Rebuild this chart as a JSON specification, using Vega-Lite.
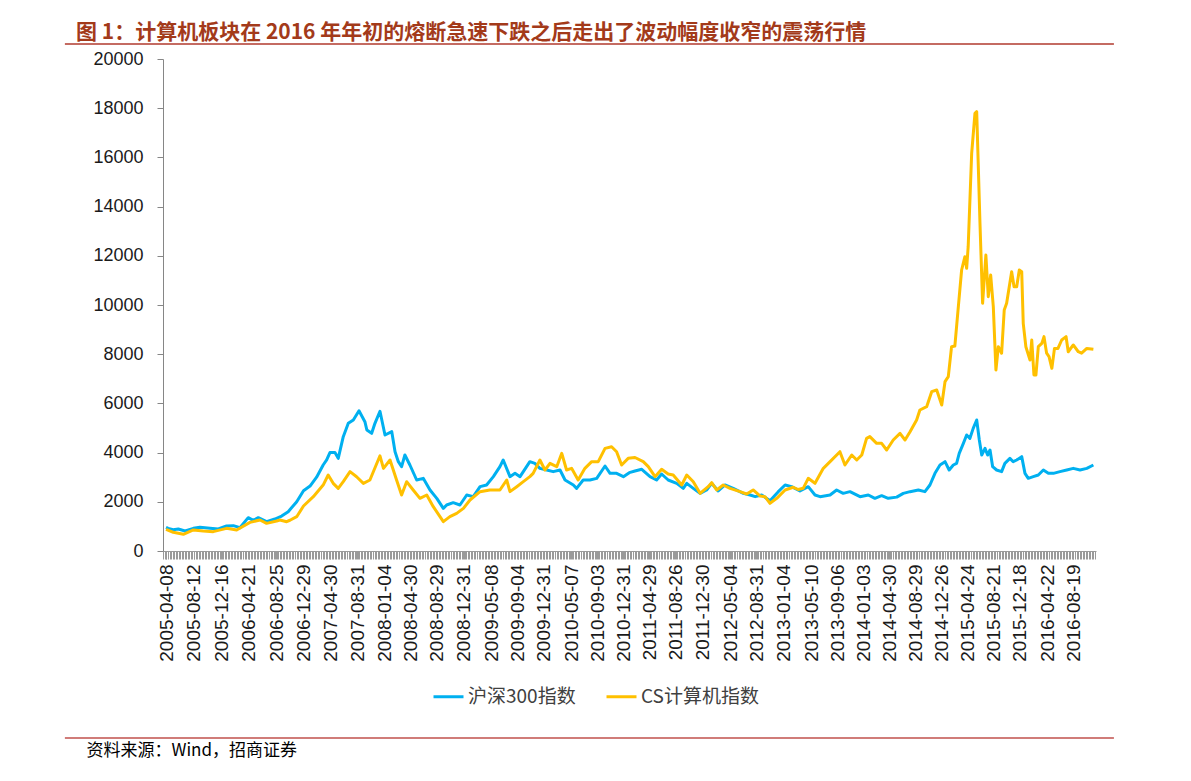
{
  "$schema": "https://vega.github.io/schema/vega-lite/v6.json",
  "width": 933,
  "height": 492,
  "autosize": {"type": "none"},
  "padding": {"left": 163, "top": 59, "right": 95, "bottom": 230},
  "background": "white",
  "config": {"view": {"stroke": null}, "axis": {"grid": false}},
  "title": {
    "text": "图 1：计算机板块在 2016 年年初的熔断急速下跌之后走出了波动幅度收窄的震荡行情",
    "anchor": "start",
    "frame": "group",
    "dx": -87,
    "offset": 0,
    "font": "Noto Sans CJK SC",
    "fontSize": 21,
    "fontWeight": "bold",
    "color": "#A33A1A"
  },
  "datasets": {
    "hs300": [
      {"date": "2005-04-08", "value": 960}, {"date": "2005-04-18", "value": 921}, {"date": "2005-05-11", "value": 867},
      {"date": "2005-06-03", "value": 894}, {"date": "2005-07-04", "value": 813}, {"date": "2005-08-11", "value": 921},
      {"date": "2005-09-10", "value": 962}, {"date": "2005-10-26", "value": 921}, {"date": "2005-12-03", "value": 894},
      {"date": "2006-01-10", "value": 1016}, {"date": "2006-02-10", "value": 1030}, {"date": "2006-03-12", "value": 948},
      {"date": "2006-04-19", "value": 1355}, {"date": "2006-05-12", "value": 1246}, {"date": "2006-06-04", "value": 1355},
      {"date": "2006-07-12", "value": 1192}, {"date": "2006-08-19", "value": 1300}, {"date": "2006-09-19", "value": 1420},
      {"date": "2006-10-19", "value": 1599}, {"date": "2006-11-27", "value": 2005}, {"date": "2006-12-28", "value": 2450},
      {"date": "2007-01-27", "value": 2640}, {"date": "2007-02-26", "value": 3000}, {"date": "2007-03-28", "value": 3496},
      {"date": "2007-04-13", "value": 3700}, {"date": "2007-04-28", "value": 4000}, {"date": "2007-05-21", "value": 4000},
      {"date": "2007-06-05", "value": 3767}, {"date": "2007-06-28", "value": 4646}, {"date": "2007-07-21", "value": 5190},
      {"date": "2007-08-13", "value": 5325}, {"date": "2007-09-08", "value": 5700}, {"date": "2007-10-05", "value": 5257},
      {"date": "2007-10-14", "value": 4918}, {"date": "2007-11-05", "value": 4783}, {"date": "2007-11-20", "value": 5190},
      {"date": "2007-12-13", "value": 5680}, {"date": "2008-01-05", "value": 4715}, {"date": "2008-02-05", "value": 4851},
      {"date": "2008-02-20", "value": 4036}, {"date": "2008-03-06", "value": 3631}, {"date": "2008-03-21", "value": 3428},
      {"date": "2008-04-05", "value": 3902}, {"date": "2008-04-28", "value": 3496}, {"date": "2008-05-29", "value": 2886},
      {"date": "2008-06-28", "value": 2954}, {"date": "2008-07-29", "value": 2480}, {"date": "2008-08-29", "value": 2141},
      {"date": "2008-09-28", "value": 1734}, {"date": "2008-10-13", "value": 1870}, {"date": "2008-11-12", "value": 1965},
      {"date": "2008-12-13", "value": 1870}, {"date": "2009-01-13", "value": 2276}, {"date": "2009-02-12", "value": 2209},
      {"date": "2009-03-15", "value": 2615}, {"date": "2009-04-14", "value": 2683}, {"date": "2009-05-15", "value": 3022},
      {"date": "2009-06-14", "value": 3428}, {"date": "2009-06-29", "value": 3699}, {"date": "2009-07-30", "value": 3022},
      {"date": "2009-08-22", "value": 3157}, {"date": "2009-09-14", "value": 3022}, {"date": "2009-10-14", "value": 3428},
      {"date": "2009-10-29", "value": 3631}, {"date": "2009-11-21", "value": 3563}, {"date": "2009-12-14", "value": 3360},
      {"date": "2010-01-14", "value": 3293}, {"date": "2010-02-13", "value": 3225}, {"date": "2010-03-16", "value": 3293},
      {"date": "2010-04-08", "value": 2886}, {"date": "2010-05-16", "value": 2683}, {"date": "2010-05-31", "value": 2547},
      {"date": "2010-06-30", "value": 2886}, {"date": "2010-07-31", "value": 2886}, {"date": "2010-08-31", "value": 2954},
      {"date": "2010-10-08", "value": 3455}, {"date": "2010-10-31", "value": 3157}, {"date": "2010-11-30", "value": 3157},
      {"date": "2010-12-31", "value": 3022}, {"date": "2011-01-27", "value": 3185}, {"date": "2011-02-22", "value": 3250},
      {"date": "2011-03-25", "value": 3320}, {"date": "2011-05-02", "value": 3022}, {"date": "2011-06-01", "value": 2886},
      {"date": "2011-06-24", "value": 3130}, {"date": "2011-07-24", "value": 2886}, {"date": "2011-09-01", "value": 2751},
      {"date": "2011-10-01", "value": 2548}, {"date": "2011-10-17", "value": 2751}, {"date": "2011-11-16", "value": 2548},
      {"date": "2011-12-17", "value": 2344}, {"date": "2012-01-16", "value": 2480}, {"date": "2012-02-08", "value": 2751},
      {"date": "2012-03-09", "value": 2440}, {"date": "2012-04-09", "value": 2683}, {"date": "2012-05-17", "value": 2548},
      {"date": "2012-07-02", "value": 2344}, {"date": "2012-08-02", "value": 2276}, {"date": "2012-08-25", "value": 2209},
      {"date": "2012-09-24", "value": 2276}, {"date": "2012-11-01", "value": 2046}, {"date": "2012-12-09", "value": 2412},
      {"date": "2013-01-09", "value": 2683}, {"date": "2013-02-08", "value": 2615}, {"date": "2013-03-18", "value": 2440},
      {"date": "2013-04-25", "value": 2615}, {"date": "2013-05-26", "value": 2276}, {"date": "2013-06-18", "value": 2209},
      {"date": "2013-08-03", "value": 2276}, {"date": "2013-09-02", "value": 2480}, {"date": "2013-10-02", "value": 2344},
      {"date": "2013-11-02", "value": 2412}, {"date": "2013-12-18", "value": 2209}, {"date": "2014-01-25", "value": 2276},
      {"date": "2014-02-24", "value": 2141}, {"date": "2014-03-27", "value": 2250}, {"date": "2014-04-26", "value": 2141},
      {"date": "2014-06-04", "value": 2190}, {"date": "2014-07-04", "value": 2344}, {"date": "2014-08-04", "value": 2412},
      {"date": "2014-09-11", "value": 2480}, {"date": "2014-10-11", "value": 2412}, {"date": "2014-11-03", "value": 2683},
      {"date": "2014-11-26", "value": 3157}, {"date": "2014-12-19", "value": 3496}, {"date": "2015-01-11", "value": 3631},
      {"date": "2015-01-30", "value": 3293}, {"date": "2015-02-18", "value": 3496}, {"date": "2015-03-05", "value": 3563},
      {"date": "2015-03-17", "value": 3970}, {"date": "2015-04-05", "value": 4377}, {"date": "2015-04-20", "value": 4715},
      {"date": "2015-05-05", "value": 4580}, {"date": "2015-05-20", "value": 4986}, {"date": "2015-06-05", "value": 5325},
      {"date": "2015-06-17", "value": 4512}, {"date": "2015-06-28", "value": 3902}, {"date": "2015-07-13", "value": 4173},
      {"date": "2015-07-25", "value": 3902}, {"date": "2015-08-05", "value": 4106}, {"date": "2015-08-17", "value": 3428},
      {"date": "2015-09-04", "value": 3293}, {"date": "2015-09-27", "value": 3225}, {"date": "2015-10-12", "value": 3563},
      {"date": "2015-11-04", "value": 3767}, {"date": "2015-11-19", "value": 3631}, {"date": "2015-12-05", "value": 3700},
      {"date": "2015-12-28", "value": 3835}, {"date": "2016-01-12", "value": 3157}, {"date": "2016-01-27", "value": 2954},
      {"date": "2016-02-19", "value": 3022}, {"date": "2016-03-13", "value": 3090}, {"date": "2016-04-05", "value": 3293},
      {"date": "2016-04-28", "value": 3157}, {"date": "2016-05-21", "value": 3157}, {"date": "2016-06-20", "value": 3225},
      {"date": "2016-07-21", "value": 3293}, {"date": "2016-08-20", "value": 3360}, {"date": "2016-09-20", "value": 3293},
      {"date": "2016-10-21", "value": 3360}, {"date": "2016-11-20", "value": 3496}
    ],
    "cs": [
      {"date": "2005-04-08", "value": 880}, {"date": "2005-05-11", "value": 759}, {"date": "2005-06-26", "value": 678},
      {"date": "2005-08-11", "value": 854}, {"date": "2005-09-25", "value": 813}, {"date": "2005-11-10", "value": 786},
      {"date": "2006-01-10", "value": 921}, {"date": "2006-02-25", "value": 854}, {"date": "2006-04-27", "value": 1165},
      {"date": "2006-06-12", "value": 1260}, {"date": "2006-07-12", "value": 1124}, {"date": "2006-08-27", "value": 1220},
      {"date": "2006-09-11", "value": 1260}, {"date": "2006-10-12", "value": 1192}, {"date": "2006-10-27", "value": 1250},
      {"date": "2006-11-27", "value": 1395}, {"date": "2006-12-28", "value": 1830}, {"date": "2007-02-11", "value": 2209},
      {"date": "2007-03-28", "value": 2680}, {"date": "2007-04-20", "value": 3090}, {"date": "2007-05-13", "value": 2750},
      {"date": "2007-06-05", "value": 2547}, {"date": "2007-06-28", "value": 2818}, {"date": "2007-07-29", "value": 3225},
      {"date": "2007-08-28", "value": 3020}, {"date": "2007-09-28", "value": 2750}, {"date": "2007-10-28", "value": 2886},
      {"date": "2007-12-13", "value": 3870}, {"date": "2007-12-29", "value": 3360}, {"date": "2008-01-28", "value": 3700},
      {"date": "2008-02-27", "value": 2886}, {"date": "2008-03-21", "value": 2276}, {"date": "2008-04-13", "value": 2818},
      {"date": "2008-05-13", "value": 2480}, {"date": "2008-06-13", "value": 2141}, {"date": "2008-07-14", "value": 2276},
      {"date": "2008-08-13", "value": 1802}, {"date": "2008-09-28", "value": 1192}, {"date": "2008-10-28", "value": 1396},
      {"date": "2008-11-28", "value": 1531}, {"date": "2008-12-29", "value": 1734}, {"date": "2009-01-28", "value": 2073},
      {"date": "2009-03-15", "value": 2412}, {"date": "2009-04-29", "value": 2480}, {"date": "2009-06-14", "value": 2480},
      {"date": "2009-07-15", "value": 2886}, {"date": "2009-07-30", "value": 2412}, {"date": "2009-08-30", "value": 2615},
      {"date": "2009-09-29", "value": 2818}, {"date": "2009-10-29", "value": 3022}, {"date": "2009-11-13", "value": 3157},
      {"date": "2009-12-14", "value": 3699}, {"date": "2010-01-06", "value": 3293}, {"date": "2010-01-29", "value": 3563},
      {"date": "2010-03-01", "value": 3428}, {"date": "2010-03-24", "value": 3970}, {"date": "2010-04-15", "value": 3293},
      {"date": "2010-05-08", "value": 3360}, {"date": "2010-06-07", "value": 2886}, {"date": "2010-07-08", "value": 3360},
      {"date": "2010-08-08", "value": 3631}, {"date": "2010-09-07", "value": 3631}, {"date": "2010-10-08", "value": 4173},
      {"date": "2010-11-07", "value": 4240}, {"date": "2010-11-30", "value": 4037}, {"date": "2010-12-23", "value": 3496},
      {"date": "2011-01-22", "value": 3767}, {"date": "2011-02-22", "value": 3800}, {"date": "2011-04-01", "value": 3631},
      {"date": "2011-04-24", "value": 3428}, {"date": "2011-05-25", "value": 3022}, {"date": "2011-06-24", "value": 3320},
      {"date": "2011-07-24", "value": 3130}, {"date": "2011-08-16", "value": 3090}, {"date": "2011-09-24", "value": 2683},
      {"date": "2011-10-17", "value": 3090}, {"date": "2011-11-16", "value": 2818}, {"date": "2011-12-17", "value": 2344},
      {"date": "2012-01-23", "value": 2615}, {"date": "2012-02-08", "value": 2777}, {"date": "2012-03-02", "value": 2480},
      {"date": "2012-04-01", "value": 2683}, {"date": "2012-05-02", "value": 2548}, {"date": "2012-06-17", "value": 2412},
      {"date": "2012-07-17", "value": 2317}, {"date": "2012-08-16", "value": 2480}, {"date": "2012-09-16", "value": 2236},
      {"date": "2012-10-09", "value": 2209}, {"date": "2012-11-01", "value": 1938}, {"date": "2012-12-02", "value": 2141},
      {"date": "2013-01-09", "value": 2480}, {"date": "2013-02-15", "value": 2590}, {"date": "2013-03-10", "value": 2500},
      {"date": "2013-04-02", "value": 2548}, {"date": "2013-04-25", "value": 2954}, {"date": "2013-05-26", "value": 2751},
      {"date": "2013-07-03", "value": 3360}, {"date": "2013-08-03", "value": 3631}, {"date": "2013-09-17", "value": 4037},
      {"date": "2013-10-10", "value": 3496}, {"date": "2013-11-10", "value": 3902}, {"date": "2013-12-03", "value": 3700},
      {"date": "2013-12-26", "value": 3902}, {"date": "2014-01-17", "value": 4580}, {"date": "2014-02-01", "value": 4650},
      {"date": "2014-03-04", "value": 4377}, {"date": "2014-03-27", "value": 4377}, {"date": "2014-04-19", "value": 4106},
      {"date": "2014-05-19", "value": 4512}, {"date": "2014-06-19", "value": 4783}, {"date": "2014-07-12", "value": 4512},
      {"date": "2014-08-04", "value": 4851}, {"date": "2014-09-03", "value": 5325}, {"date": "2014-09-18", "value": 5732},
      {"date": "2014-10-19", "value": 5867}, {"date": "2014-11-11", "value": 6476}, {"date": "2014-12-04", "value": 6545},
      {"date": "2014-12-27", "value": 5935}, {"date": "2015-01-11", "value": 6883}, {"date": "2015-01-26", "value": 7087},
      {"date": "2015-02-10", "value": 8305}, {"date": "2015-02-25", "value": 8333}, {"date": "2015-03-13", "value": 9932},
      {"date": "2015-03-28", "value": 11423}, {"date": "2015-04-12", "value": 11965}, {"date": "2015-04-20", "value": 11491},
      {"date": "2015-04-27", "value": 12370}, {"date": "2015-05-13", "value": 16167}, {"date": "2015-05-28", "value": 17792},
      {"date": "2015-06-05", "value": 17859}, {"date": "2015-06-20", "value": 13321}, {"date": "2015-07-02", "value": 10069},
      {"date": "2015-07-17", "value": 12032}, {"date": "2015-07-28", "value": 10339}, {"date": "2015-08-08", "value": 11219},
      {"date": "2015-08-20", "value": 9932}, {"date": "2015-09-01", "value": 7358}, {"date": "2015-09-12", "value": 8305},
      {"date": "2015-09-27", "value": 8040}, {"date": "2015-10-09", "value": 9797}, {"date": "2015-10-20", "value": 10069},
      {"date": "2015-11-01", "value": 10745}, {"date": "2015-11-12", "value": 11355}, {"date": "2015-11-23", "value": 10745},
      {"date": "2015-12-05", "value": 10745}, {"date": "2015-12-17", "value": 11423}, {"date": "2015-12-28", "value": 11355},
      {"date": "2016-01-04", "value": 9255}, {"date": "2016-01-16", "value": 8305}, {"date": "2016-02-04", "value": 7764},
      {"date": "2016-02-12", "value": 8577}, {"date": "2016-02-22", "value": 7154}, {"date": "2016-03-02", "value": 7154},
      {"date": "2016-03-13", "value": 8305}, {"date": "2016-03-29", "value": 8440}, {"date": "2016-04-08", "value": 8713},
      {"date": "2016-04-20", "value": 8040}, {"date": "2016-05-01", "value": 7900}, {"date": "2016-05-14", "value": 7425},
      {"date": "2016-05-26", "value": 8235}, {"date": "2016-06-11", "value": 8235}, {"date": "2016-06-28", "value": 8577},
      {"date": "2016-07-18", "value": 8713}, {"date": "2016-07-28", "value": 8100}, {"date": "2016-08-20", "value": 8375},
      {"date": "2016-09-12", "value": 8100}, {"date": "2016-09-27", "value": 8040}, {"date": "2016-10-21", "value": 8235},
      {"date": "2016-11-20", "value": 8200}
    ]
  },
  "layer": [
    {
      "data": {"values": [{}]},
      "mark": {"type": "rule", "color": "#B03A2E", "strokeWidth": 1.5},
      "encoding": {
        "x": {
          "datum": {"year": 2004, "month": 1, "date": 1},
          "type": "temporal",
          "scale": {"domain": [{"year": 2005, "month": 3, "date": 25}, {"year": 2016, "month": 12, "date": 2}]},
          "axis": {
            "orient": "bottom",
            "tickCount": {"interval": "week", "step": 1},
            "labels": false,
            "domain": false,
            "ticks": true,
            "tickSize": 8,
            "tickColor": "#9a9a9a",
            "tickWidth": 1,
            "title": null,
            "grid": false
          }
        },
        "x2": {"datum": {"year": 2017, "month": 2, "date": 22}},
        "y": {"datum": 20610, "type": "quantitative", "scale": {"domain": [0, 20000], "nice": false}}
      }
    },
    {
      "data": {"values": [{}]},
      "mark": {"type": "rule", "color": "#C0504D", "strokeWidth": 1.5},
      "encoding": {
        "x": {
          "datum": {"year": 2004, "month": 1, "date": 1},
          "type": "temporal",
          "scale": {"domain": [{"year": 2005, "month": 3, "date": 25}, {"year": 2016, "month": 12, "date": 2}]},
          "axis": null
        },
        "x2": {"datum": {"year": 2017, "month": 2, "date": 22}},
        "y": {"datum": -7602, "type": "quantitative", "scale": {"domain": [0, 20000], "nice": false}}
      }
    },
    {
      "data": {"name": "hs300"},
      "mark": {"type": "line", "strokeWidth": 3, "strokeJoin": "round"},
      "encoding": {
        "x": {
          "field": "date",
          "type": "temporal",
          "scale": {"domain": [{"year": 2005, "month": 3, "date": 25}, {"year": 2016, "month": 12, "date": 2}]},
          "axis": {
            "orient": "bottom",
            "values": [
              {"year": 2005, "month": 4, "date": 8}, {"year": 2005, "month": 8, "date": 12}, {"year": 2005, "month": 12, "date": 16},
              {"year": 2006, "month": 4, "date": 21}, {"year": 2006, "month": 8, "date": 25}, {"year": 2006, "month": 12, "date": 29},
              {"year": 2007, "month": 4, "date": 30}, {"year": 2007, "month": 8, "date": 31}, {"year": 2008, "month": 1, "date": 4},
              {"year": 2008, "month": 4, "date": 30}, {"year": 2008, "month": 8, "date": 29}, {"year": 2008, "month": 12, "date": 31},
              {"year": 2009, "month": 5, "date": 8}, {"year": 2009, "month": 9, "date": 4}, {"year": 2009, "month": 12, "date": 31},
              {"year": 2010, "month": 5, "date": 7}, {"year": 2010, "month": 9, "date": 3}, {"year": 2010, "month": 12, "date": 31},
              {"year": 2011, "month": 4, "date": 29}, {"year": 2011, "month": 8, "date": 26}, {"year": 2011, "month": 12, "date": 30},
              {"year": 2012, "month": 5, "date": 4}, {"year": 2012, "month": 8, "date": 31}, {"year": 2013, "month": 1, "date": 4},
              {"year": 2013, "month": 5, "date": 10}, {"year": 2013, "month": 9, "date": 6}, {"year": 2014, "month": 1, "date": 3},
              {"year": 2014, "month": 4, "date": 30}, {"year": 2014, "month": 8, "date": 29}, {"year": 2014, "month": 12, "date": 26},
              {"year": 2015, "month": 4, "date": 24}, {"year": 2015, "month": 8, "date": 21}, {"year": 2015, "month": 12, "date": 18},
              {"year": 2016, "month": 4, "date": 22}, {"year": 2016, "month": 8, "date": 19}
            ],
            "format": "%Y-%m-%d",
            "labelAngle": 270,
            "labelFont": "Liberation Sans",
            "labelFontSize": 19,
            "labelColor": "#1a1a1a",
            "labelPadding": 5,
            "labelOverlap": false,
            "labelBound": false,
            "labelFlush": false,
            "tickSize": 8,
            "tickColor": "#9a9a9a",
            "domainColor": "#9a9a9a",
            "domainWidth": 1,
            "title": "资料来源：Wind，招商证券",
            "titleX": -77,
            "titleY": 199,
            "titleAlign": "left",
            "titleBaseline": "middle",
            "titleFont": "Noto Sans CJK SC",
            "titleFontSize": 17,
            "titleFontWeight": "normal",
            "titleColor": "#000000",
            "grid": false
          }
        },
        "y": {
          "field": "value",
          "type": "quantitative",
          "scale": {"domain": [0, 20000], "nice": false},
          "axis": {
            "values": [0, 2000, 4000, 6000, 8000, 10000, 12000, 14000, 16000, 18000, 20000],
            "format": "d",
            "title": null,
            "labelFont": "Liberation Sans",
            "labelFontSize": 18,
            "labelColor": "#1a1a1a",
            "labelPadding": 14,
            "tickSize": 6,
            "tickColor": "#868686",
            "domainColor": "#868686",
            "grid": false
          }
        },
        "color": {
          "datum": "沪深300指数",
          "type": "nominal",
          "scale": {"domain": ["沪深300指数", "CS计算机指数"], "range": ["#00B0F0", "#FFC000"]},
          "legend": {
            "orient": "none",
            "legendX": 269,
            "legendY": 621,
            "direction": "horizontal",
            "columns": 2,
            "title": null,
            "symbolType": "stroke",
            "symbolSize": 900,
            "symbolStrokeWidth": 3,
            "labelFont": "Noto Sans CJK SC",
            "labelFontSize": 19,
            "labelColor": "#404040",
            "labelOffset": 3,
            "columnPadding": 24
          }
        }
      }
    },
    {
      "data": {"name": "cs"},
      "mark": {"type": "line", "strokeWidth": 3, "strokeJoin": "round"},
      "encoding": {
        "x": {
          "field": "date",
          "type": "temporal",
          "scale": {"domain": [{"year": 2005, "month": 3, "date": 25}, {"year": 2016, "month": 12, "date": 2}]},
          "axis": null
        },
        "y": {"field": "value", "type": "quantitative", "scale": {"domain": [0, 20000], "nice": false}},
        "color": {
          "datum": "CS计算机指数",
          "type": "nominal",
          "scale": {"domain": ["沪深300指数", "CS计算机指数"], "range": ["#00B0F0", "#FFC000"]}
        }
      }
    }
  ],
  "resolve": {"axis": {"x": "independent"}}
}
